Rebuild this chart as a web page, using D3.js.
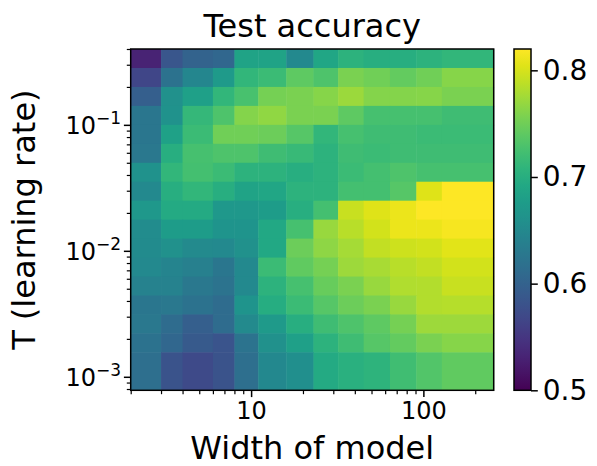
<!DOCTYPE html>
<html><head><meta charset="utf-8">
<script src="https://cdn.jsdelivr.net/npm/d3@7"></script>
<style>html,body{margin:0;padding:0;background:#fff;}svg{display:block;font-family:"DejaVu Sans",sans-serif;}</style>
</head><body>
<svg id="c" width="597" height="466"></svg>
<script>
// Column edges (model width) and row edges (T, learning rate), top row first
const widthEdges = [2, 3, 4, 6, 8, 11, 16, 23, 32, 45, 64, 91, 128, 256];
const tEdges = [0.4, 0.2828, 0.2, 0.1414, 0.1, 0.07071, 0.05, 0.03536, 0.025, 0.01768, 0.0125, 0.008839, 0.00625, 0.004419, 0.003125, 0.00221, 0.0015625, 0.00078125];
// Test accuracy, one array per row (top = largest T), one value per width column
const acc = [
  [0.530, 0.586, 0.600, 0.605, 0.685, 0.685, 0.650, 0.690, 0.705, 0.700, 0.700, 0.705, 0.710],
  [0.567, 0.620, 0.647, 0.673, 0.710, 0.718, 0.740, 0.730, 0.756, 0.750, 0.743, 0.750, 0.762],
  [0.596, 0.660, 0.680, 0.710, 0.727, 0.753, 0.756, 0.762, 0.772, 0.760, 0.760, 0.762, 0.756],
  [0.625, 0.663, 0.713, 0.730, 0.760, 0.767, 0.756, 0.756, 0.740, 0.726, 0.726, 0.725, 0.720],
  [0.625, 0.683, 0.718, 0.750, 0.750, 0.748, 0.735, 0.710, 0.726, 0.720, 0.720, 0.718, 0.718],
  [0.628, 0.700, 0.725, 0.730, 0.730, 0.720, 0.715, 0.706, 0.720, 0.718, 0.720, 0.720, 0.720],
  [0.662, 0.711, 0.724, 0.718, 0.706, 0.706, 0.700, 0.706, 0.718, 0.724, 0.730, 0.725, 0.725],
  [0.650, 0.700, 0.710, 0.700, 0.686, 0.690, 0.705, 0.705, 0.724, 0.724, 0.735, 0.804, 0.820],
  [0.670, 0.695, 0.695, 0.671, 0.671, 0.676, 0.700, 0.724, 0.793, 0.804, 0.810, 0.820, 0.820],
  [0.654, 0.676, 0.676, 0.666, 0.666, 0.692, 0.726, 0.770, 0.785, 0.798, 0.810, 0.810, 0.815],
  [0.653, 0.660, 0.652, 0.650, 0.660, 0.692, 0.748, 0.766, 0.777, 0.790, 0.796, 0.798, 0.806],
  [0.650, 0.644, 0.638, 0.625, 0.650, 0.718, 0.742, 0.753, 0.773, 0.778, 0.786, 0.790, 0.798],
  [0.641, 0.641, 0.628, 0.622, 0.650, 0.706, 0.725, 0.745, 0.756, 0.770, 0.782, 0.783, 0.793],
  [0.625, 0.628, 0.620, 0.612, 0.665, 0.698, 0.718, 0.735, 0.748, 0.756, 0.770, 0.783, 0.784],
  [0.628, 0.612, 0.596, 0.612, 0.652, 0.673, 0.700, 0.720, 0.730, 0.740, 0.753, 0.773, 0.773],
  [0.620, 0.605, 0.590, 0.583, 0.622, 0.660, 0.680, 0.706, 0.720, 0.735, 0.743, 0.756, 0.762],
  [0.615, 0.582, 0.572, 0.582, 0.615, 0.649, 0.658, 0.695, 0.703, 0.707, 0.722, 0.733, 0.742]
];
const xMajor = [10, 100];
const xMajorLabels = ["10", "100"];
const yMajor = [0.1, 0.01, 0.001];
const yMajorExp = ["\u22121", "\u22122", "\u22123"];
const cbTicks = [0.5, 0.6, 0.7, 0.8];
const cbTickLabels = ["0.5", "0.6", "0.7", "0.8"];
const vmin = 0.5, vmax = 0.82;
const title = "Test accuracy", xTitle = "Width of model", yTitle = "T (learning rate)";

const L = 130.7, R = 493.7, T = 49, B = 390.3;
const svg = d3.select("#c");
const x = d3.scaleLog().domain([widthEdges[0], widthEdges[widthEdges.length - 1]]).range([L, R]);
const y = d3.scaleLog().domain([tEdges[tEdges.length - 1], tEdges[0]]).range([B, T]);
const color = v => d3.interpolateViridis(Math.max(0, Math.min(1, (v - vmin) / (vmax - vmin))));

const cells = [];
acc.forEach((row, i) => row.forEach((v, j) => cells.push({i, j, v})));
svg.append("g").selectAll("rect").data(cells).join("rect")
  .attr("x", d => x(widthEdges[d.j]))
  .attr("width", d => x(widthEdges[d.j + 1]) - x(widthEdges[d.j]) + 0.5)
  .attr("y", d => y(tEdges[d.i]))
  .attr("height", d => y(tEdges[d.i + 1]) - y(tEdges[d.i]) + 0.5)
  .attr("fill", d => color(d.v));

// minor ticks
const xMinor = [];
[1, 10, 100].forEach(d => [2,3,4,5,6,7,8,9].forEach(k => { const v = k * d; if (v >= 2 && v <= 256 && v !== 10 && v !== 100) xMinor.push(v); }));
const yMinor = [];
[0.0001, 0.001, 0.01, 0.1].forEach(d => [2,3,4,5,6,7,8,9].forEach(k => { const v = k * d; if (v >= 0.00078 && v <= 0.4001) yMinor.push(v); }));

const gx = svg.append("g").attr("transform", `translate(0,${B})`);
gx.call(d3.axisBottom(x).tickValues(xMinor).tickSize(3.9).tickFormat(""));
const gx2 = svg.append("g").attr("transform", `translate(0,${B})`);
gx2.call(d3.axisBottom(x).tickValues(xMajor).tickSize(6.8).tickPadding(5).tickFormat((d, i) => xMajorLabels[i]));
const gy = svg.append("g").attr("transform", `translate(${L},0)`);
gy.call(d3.axisLeft(y).tickValues(yMinor).tickSize(3.9).tickFormat(""));
const gy2 = svg.append("g").attr("transform", `translate(${L},0)`);
gy2.call(d3.axisLeft(y).tickValues(yMajor).tickSize(6.8).tickFormat(""));
[gx, gx2, gy, gy2].forEach(g => { g.select(".domain").remove(); g.selectAll("line").attr("stroke", "#000").attr("stroke-width", 1.2); });
gx2.selectAll("line").attr("stroke-width", 1.5);
gy2.selectAll("line").attr("stroke-width", 1.5);
gx2.selectAll("text").attr("font-size", 24).attr("fill", "#000").attr("font-family", "DejaVu Sans");

// y major labels with superscripts
yMajor.forEach((v, i) => {
  const t = svg.append("text").attr("x", 121).attr("y", y(v) + 9).attr("text-anchor", "end")
    .attr("font-size", 24).attr("fill", "#000");
  t.append("tspan").text("10");
  t.append("tspan").attr("font-size", 17).attr("dy", -10).text(yMajorExp[i]);
});

// frame
svg.append("rect").attr("x", L).attr("y", T).attr("width", R - L).attr("height", B - T)
  .attr("fill", "none").attr("stroke", "#000").attr("stroke-width", 1.5);

// titles
svg.append("text").attr("x", (L + R) / 2).attr("y", 37).attr("text-anchor", "middle").attr("font-size", 32).text(title);
svg.append("text").attr("x", (L + R) / 2).attr("y", 459).attr("text-anchor", "middle").attr("font-size", 32).text(xTitle);
svg.append("text").attr("transform", `translate(35,${(T + B) / 2}) rotate(-90)`).attr("text-anchor", "middle").attr("font-size", 32).text(yTitle);

// colorbar
const cbL = 514, cbR = 531;
const cb = d3.scaleLinear().domain([vmin, vmax]).range([B, T]);
const defs = svg.append("defs");
const grad = defs.append("linearGradient").attr("id", "vg").attr("x1", 0).attr("y1", 1).attr("x2", 0).attr("y2", 0);
d3.range(0, 1.0001, 0.05).forEach(s => grad.append("stop").attr("offset", s).attr("stop-color", d3.interpolateViridis(s)));
svg.append("rect").attr("x", cbL).attr("y", T).attr("width", cbR - cbL).attr("height", B - T).attr("fill", "url(#vg)")
  .attr("stroke", "#000").attr("stroke-width", 1.5);
const gc = svg.append("g").attr("transform", `translate(${cbR},0)`);
gc.call(d3.axisRight(cb).tickValues(cbTicks).tickSize(6.8).tickPadding(5).tickFormat((d, i) => cbTickLabels[i]));
gc.select(".domain").remove();
gc.selectAll("line").attr("stroke", "#000").attr("stroke-width", 1.5);
gc.selectAll("text").attr("font-size", 28).attr("fill", "#000").attr("font-family", "DejaVu Sans");
</script>
</body></html>
